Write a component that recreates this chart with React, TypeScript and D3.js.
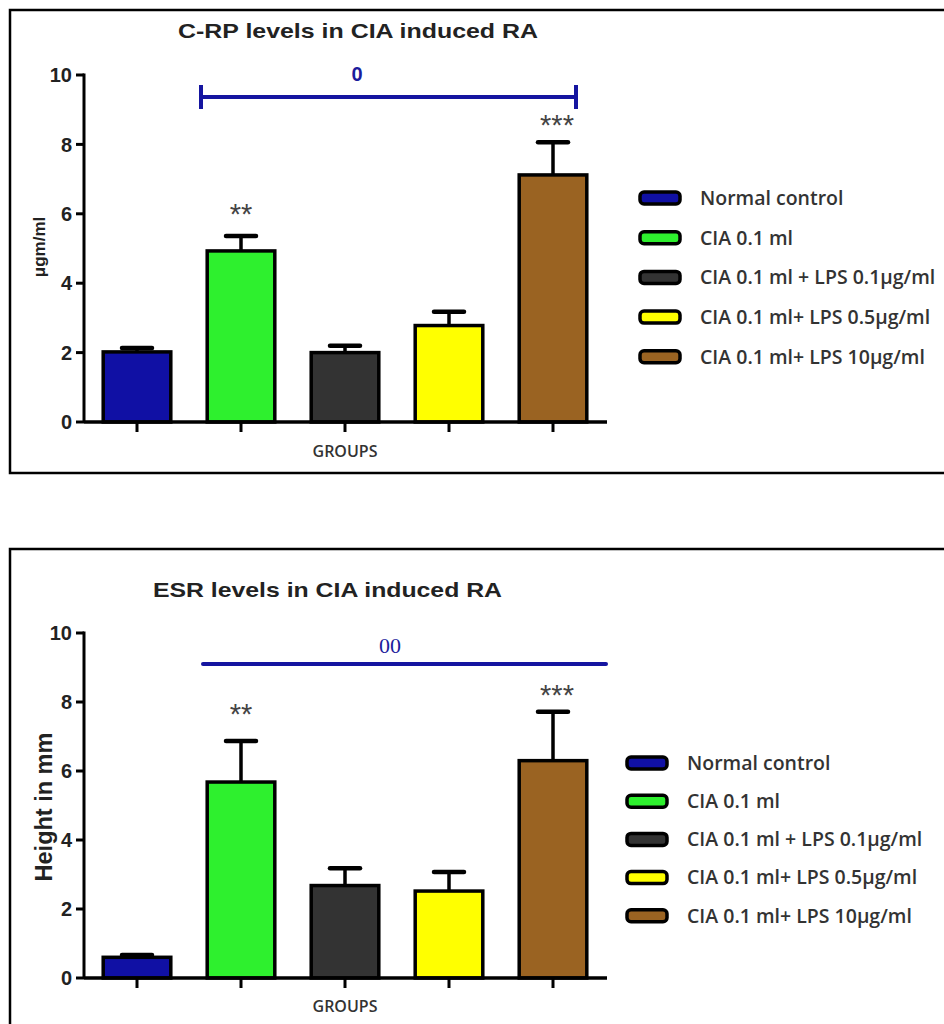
import React from "react";
import * as d3 from "d3";

// Groups / legend
const groups = [
	"Normal control",
	"CIA 0.1 ml",
	"CIA 0.1 ml + LPS 0.1μg/ml",
	"CIA 0.1 ml+ LPS 0.5μg/ml",
	"CIA 0.1 ml+ LPS 10μg/ml",
];
const barColors = ["#1010a4", "#2ef02e", "#333333", "#ffff00", "#9a6322"];
const yTicks = [0, 2, 4, 6, 8, 10];

// C-RP panel
const crpMeans = [2.02, 4.93, 2.0, 2.78, 7.12];
const crpErrors = [0.11, 0.43, 0.2, 0.4, 0.94];
const crpStars = ["", "**", "", "", "***"];

// ESR panel
const esrMeans = [0.6, 5.68, 2.68, 2.52, 6.3];
const esrErrors = [0.07, 1.19, 0.5, 0.55, 1.42];
const esrStars = ["", "**", "", "", "***"];

type PanelProps = {
	top: number; // y of the box top
	boxH: number;
	title: string;
	titleX: number;
	titleY: number;
	titleW: number;
	yLabel: string;
	yLabelSize: number;
	yLabelX: number;
	yLabelY: number;
	y0: number;
	y10: number;
	means: number[];
	errors: number[];
	stars: string[];
	starY: number[];
	sigY: number;
	sigStart: number;
	sigEnd: number;
	sigCaps: boolean;
	sigText: string;
	sigTextY: number;
	sigTextX: number;
	sigSerif: boolean;
	groupsY: number;
	legendX: number;
	legendY: number;
	legendStep: number;
};

const sans = "'Liberation Sans', Arial, sans-serif";
const calib = "'Open Sans', sans-serif";

function Panel(p: PanelProps) {
	const x = d3
		.scaleBand<string>()
		.domain(groups)
		.range([85, 605])
		.paddingInner(0.35)
		.paddingOuter(0.175);
	const y = d3.scaleLinear().domain([0, 10]).range([p.y0, p.y10]);
	const capW = 30;

	return (
		<g>
			{/* frame */}
			<rect x={10} y={p.top} width={960} height={p.boxH} fill="none" stroke="#000" strokeWidth={2.5} />

			{/* Title */}
			<text
				x={p.titleX}
				y={p.titleY}
				fontFamily={sans}
				fontWeight="bold"
				fontSize={21}
				fill="#222"
				textLength={p.titleW}
				lengthAdjust="spacingAndGlyphs"
			>
				{p.title}
			</text>

			{/* bars */}
			{groups.map((g, i) => (
				<rect
					key={g}
					x={x(g)}
					y={y(p.means[i])}
					width={x.bandwidth()}
					height={y(0) - y(p.means[i])}
					fill={barColors[i]}
					stroke="#000"
					strokeWidth={3.5}
				/>
			))}

			{/* error bars */}
			{groups.map((g, i) => {
				const cx = (x(g) as number) + x.bandwidth() / 2;
				const top = y(p.means[i] + p.errors[i]);
				return (
					<g key={"e" + g} stroke="#000">
						<line x1={cx} x2={cx} y1={y(p.means[i])} y2={top} strokeWidth={3.5} />
						<line x1={cx - capW / 2} x2={cx + capW / 2} y1={top} y2={top} strokeWidth={4.5} strokeLinecap="round" />
					</g>
				);
			})}

			{/* stars */}
			{groups.map((g, i) =>
				p.stars[i] ? (
					<text
						key={"s" + g}
						x={(x(g) as number) + x.bandwidth() / 2 + (i === 4 ? 4 : 0)}
						y={p.starY[i]}
						textAnchor="middle"
						fontFamily={sans}
						fontSize={29}
						fill="#444"
					>
						{p.stars[i]}
					</text>
				) : null
			)}

			{/* significance bar */}
			<line x1={p.sigStart} x2={p.sigEnd} y1={p.sigY} y2={p.sigY} stroke="#1515a0" strokeWidth={4} strokeLinecap="round" />
			{p.sigCaps && (
				<g stroke="#1515a0" strokeWidth={4}>
					<line x1={p.sigStart} x2={p.sigStart} y1={p.sigY - 12} y2={p.sigY + 12} />
					<line x1={p.sigEnd} x2={p.sigEnd} y1={p.sigY - 12} y2={p.sigY + 12} />
				</g>
			)}
			<text
				x={p.sigTextX}
				y={p.sigTextY}
				textAnchor="middle"
				fontFamily={p.sigSerif ? "'Liberation Serif', serif" : sans}
				fontWeight={p.sigSerif ? "normal" : "bold"}
				fontSize={p.sigSerif ? 22 : 20}
				fill="#1c1c9c"
			>
				{p.sigText}
			</text>

			{/* y-axis */}
			<line x1={84} x2={84} y1={y(10) - 1.5} y2={y(0)} stroke="#000" strokeWidth={3} />
			{yTicks.map((t) => (
				<g key={"t" + t}>
					<line x1={76} x2={84} y1={y(t)} y2={y(t)} stroke="#000" strokeWidth={3} />
					<text
						x={72}
						y={y(t)}
						dy="0.36em"
						textAnchor="end"
						fontFamily={sans}
						fontWeight="bold"
						fontSize={20}
						fill="#222"
					>
						{t}
					</text>
				</g>
			))}

			{/* x-axis */}
			<line x1={84} x2={607} y1={y(0)} y2={y(0)} stroke="#000" strokeWidth={3.5} />
			{groups.map((g) => {
				const cx = (x(g) as number) + x.bandwidth() / 2;
				return <line key={"xt" + g} x1={cx} x2={cx} y1={y(0)} y2={y(0) + 10} stroke="#000" strokeWidth={3} />;
			})}
			<text x={345} y={p.groupsY} textAnchor="middle" fontFamily={calib} fontWeight={600} fontSize={16} fill="#333">
				GROUPS
			</text>

			{/* y-axis label */}
			<text
				transform={`translate(${p.yLabelX}, ${p.yLabelY}) rotate(-90)`}
				textAnchor="middle"
				fontFamily={sans}
				fontWeight="bold"
				fontSize={p.yLabelSize}
				fill="#222"
			>
				{p.yLabel}
			</text>

			{/* legend */}
			{groups.map((g, i) => {
				const ly = p.legendY + i * p.legendStep;
				return (
					<g key={"l" + g}>
						<rect x={p.legendX} y={ly - 6} width={40} height={12} rx={4} fill={barColors[i]} stroke="#000" strokeWidth={3.5} />
						<text x={p.legendX + 60} y={ly} dy="0.35em" fontFamily={calib} fontWeight={600} fontSize={19.5} fill="#333">
							{g}
						</text>
					</g>
				);
			})}
		</g>
	);
}

export default function App() {
	return (
		<svg
			width={944}
			height={1024}
			viewBox="0 0 944 1024"
			style={{ position: "absolute", left: 0, top: 0, background: "#fff" }}
		>
			<Panel
				top={10}
				boxH={463}
				title="C-RP levels in CIA induced RA"
				titleX={178}
				titleY={38}
				titleW={360}
				yLabel="μgm/ml"
				yLabelSize={17}
				yLabelX={45}
				yLabelY={247}
				y0={422}
				y10={75}
				means={crpMeans}
				errors={crpErrors}
				stars={crpStars}
				starY={[0, 224, 0, 0, 135]}
				sigY={97}
				sigStart={201}
				sigEnd={576}
				sigCaps={true}
				sigText="0"
				sigTextX={357}
				sigTextY={81}
				sigSerif={false}
				groupsY={457}
				legendX={640}
				legendY={198}
				legendStep={39.7}
			/>
			<Panel
				top={549}
				boxH={500}
				title="ESR levels in CIA induced RA"
				titleX={153}
				titleY={597}
				titleW={349}
				yLabel="Height in mm"
				yLabelSize={23.5}
				yLabelX={52}
				yLabelY={807}
				y0={978}
				y10={633}
				means={esrMeans}
				errors={esrErrors}
				stars={esrStars}
				starY={[0, 724, 0, 0, 705]}
				sigY={664}
				sigStart={203}
				sigEnd={606}
				sigCaps={false}
				sigText="00"
				sigTextX={390}
				sigTextY={653}
				sigSerif={true}
				groupsY={1012}
				legendX={627}
				legendY={763}
				legendStep={38.2}
			/>
		</svg>
	);
}
